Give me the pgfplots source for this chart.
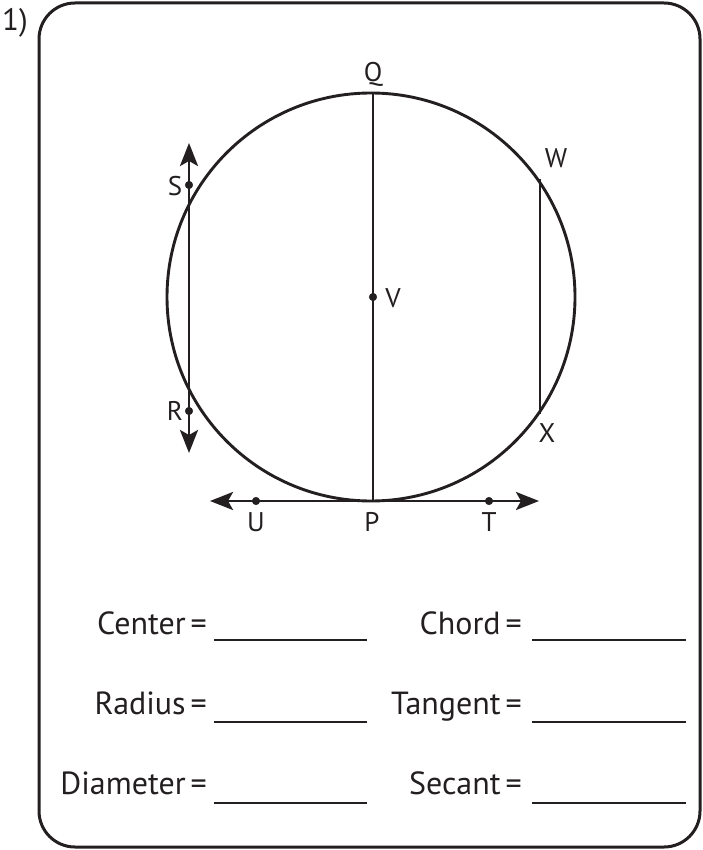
\documentclass[border=0pt]{standalone}
\usepackage{pgfplots}
\pgfplotsset{compat=1.18}
\usepackage{fontspec}
\setmainfont{PT Sans}
\usetikzlibrary{arrows.meta}
\definecolor{ink}{HTML}{231F20}
\newcommand{\eq}{\kern5pt=}
\begin{document}
\begin{tikzpicture}
\begin{axis}[
  width=702pt, height=850pt, scale only axis,
  xmin=0, xmax=702, ymin=0, ymax=850, y dir=reverse,
  axis lines=none, clip=false,
]
% frame
\draw[ink, line width=3pt, rounded corners=36pt] (axis cs:39,3) rectangle (axis cs:700,847);
\node[ink, font=\fontsize{31}{34}\selectfont, anchor=base] at (axis cs:15,31) {1)};
% circle
\draw[ink, line width=2.9pt] (axis cs:371,297) circle [radius=204];
% diameter QP
\addplot[ink, line width=2.9pt] coordinates {(373,93) (373,501)};
% chord WX
\addplot[ink, line width=2.9pt] coordinates {(540,179) (540,414)};
% secant SR
\addplot[ink, line width=2.9pt, {Stealth[length=23pt,width=18pt,inset=5pt]}-{Stealth[length=23pt,width=18pt,inset=5pt]}] coordinates {(189,143) (189,453)};
% tangent UT
\addplot[ink, line width=2.9pt, {Stealth[length=23pt,width=18pt,inset=5pt]}-{Stealth[length=23pt,width=18pt,inset=5pt]}] coordinates {(210,501) (539,501)};
% points
\addplot[only marks, mark=*, mark size=3.8pt, ink] coordinates {(189,185) (189,411) (373,297) (256,501) (489,501)};
% labels
\begin{scope}[every node/.style={ink, font=\fontsize{27}{30}\selectfont}]
\node at (axis cs:373,74) {Q};
\node at (axis cs:556,158) {W};
\node at (axis cs:175,186) {S};
\node at (axis cs:393,298) {V};
\node at (axis cs:175,411) {R};
\node at (axis cs:547,433) {X};
\node at (axis cs:256,522) {U};
\node at (axis cs:372,522) {P};
\node at (axis cs:489,522) {T};
\end{scope}
% answer rows
\begin{scope}[every node/.style={ink, font=\fontsize{32}{36}\selectfont, anchor=base east, inner sep=0pt}]
\node at (axis cs:207,634) {Center\eq};
\node at (axis cs:207,714) {Radius\eq};
\node at (axis cs:207,794) {Diameter\eq};
\node at (axis cs:522,634) {Chord\eq};
\node at (axis cs:522,714) {Tangent\eq};
\node at (axis cs:522,794) {Secant\eq};
\end{scope}
\addplot[ink, line width=2.6pt] coordinates {(214,640) (367,640)};
\addplot[ink, line width=2.6pt] coordinates {(214,722) (367,722)};
\addplot[ink, line width=2.6pt] coordinates {(214,803) (367,803)};
\addplot[ink, line width=2.6pt] coordinates {(532,640) (686,640)};
\addplot[ink, line width=2.6pt] coordinates {(532,722) (686,722)};
\addplot[ink, line width=2.6pt] coordinates {(532,803) (686,803)};
\end{axis}
\pgfresetboundingbox
\path[use as bounding box] (current axis.south west) rectangle (current axis.north east);
\end{tikzpicture}
\end{document}
